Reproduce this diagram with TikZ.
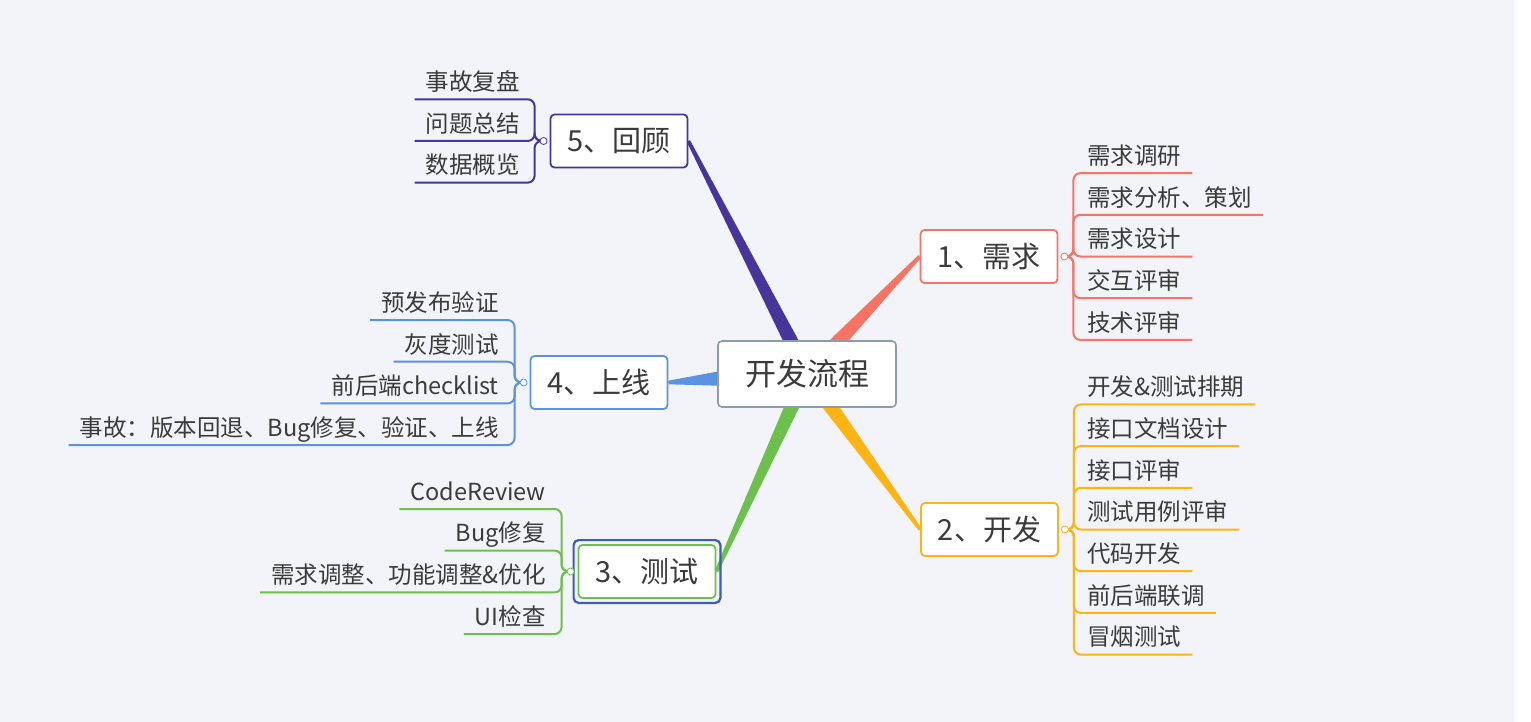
\documentclass[tikz,border=0pt]{standalone}
\usepackage{fontspec}
\setmainfont{Noto Sans CJK SC}
\usetikzlibrary{calc,positioning}
\definecolor{paper}{HTML}{F3F4F9}
\definecolor{ink}{HTML}{3B3B3B}
\definecolor{rootgray}{HTML}{8E9AAF}
\definecolor{coral}{HTML}{F87363}
\definecolor{amber}{HTML}{FFB414}
\definecolor{leaf}{HTML}{6CC04C}
\definecolor{sky}{HTML}{5A93DE}
\definecolor{plum}{HTML}{47359A}
\definecolor{pick}{HTML}{3C5CB6}
\pgfdeclarelayer{paperlayer}\pgfdeclarelayer{stemlayer}
\pgfsetlayers{paperlayer,stemlayer,main}
% tapered line from the root K to a topic anchor
\newcommand\mainline[2]{%
  \path let \p1=($(#2)-(K)$),\n1={mod(atan2(\y1,\x1)+360,360)} in (K.\n1) coordinate (b);
  \fill[#1] ($(K)!7pt!90:(#2)$) -- ($(b)!7pt!90:(#2)$) -- ($(#2)!1.8pt!-90:(b)$)
    -- ($(#2)!1.8pt!90:(b)$) -- ($(b)!7pt!-90:(#2)$) -- ($(K)!7pt!-90:(#2)$) -- cycle;}

\begin{document}
\begin{tikzpicture}[x=1pt,y=-1pt,
  root/.style={draw=rootgray,line width=1.6pt,fill=white,rounded corners=4pt,minimum width=178pt,minimum height=66pt,text=ink,font=\fontsize{31pt}{36pt}\selectfont},
  topic/.style={draw=#1,line width=1.8pt,fill=white,rounded corners=4pt,minimum width=137pt,minimum height=53pt,text=ink,font=\fontsize{29pt}{34pt}\selectfont},
  item/.style={inner xsep=11pt,inner ysep=5.5pt,text height=19pt,text depth=3pt,text=ink,font=\fontsize{23.5pt}{28pt}\selectfont},
  knob/.style={circle,draw=#1,fill=white,line width=.8pt,inner sep=0pt,minimum size=7pt},
  twig/.style={draw=#1,line width=2pt,rounded corners=7pt}]
\useasboundingbox (0,0) rectangle (1531,722);
\begin{pgfonlayer}{paperlayer}
\fill[paper] (0,0) rectangle (1517,722);
\shade[left color=paper,right color=white] (1512,0) rectangle (1519,722);
\fill[white] (1519,0) rectangle (1531,722);
\end{pgfonlayer}

\node[root] (K) at (807,374) {开发流程};
\node[topic=coral] (T1) at (989,256.5) {1、需求};
\node[topic=amber] (T2) at (989.5,529.5) {2、开发};
\node[topic=leaf] (T3) at (647,571.5) {3、测试};
\node[topic=sky] (T4) at (599,382.5) {4、上线};
\node[topic=plum] (T5) at (619,141) {5、回顾};
\draw[pick,line width=2.2pt,rounded corners=5pt] ([shift={(-4pt,4pt)}]T3.north west) rectangle ([shift={(4pt,-4pt)}]T3.south east);

\begin{pgfonlayer}{stemlayer}
\mainline{plum}{T5.east}
\mainline{coral}{T1.west}
\mainline{sky}{T4.east}
\mainline{leaf}{T3.east}
\mainline{amber}{T2.west}
\end{pgfonlayer}

% 1 需求
\coordinate (c1) at ([xshift=6pt]T1.east);
\coordinate (s1) at ([xshift=15pt]T1.east);
\foreach \y/\t [count=\i] in {173.1/需求调研,214.8/需求分析、策划,256.5/需求设计,298.2/交互评审,339.9/技术评审}{
  \node[item,anchor=south west] (i1\i) at (1076,\y) {\t};
  \draw[twig=coral] (c1) -| (s1 |- i1\i.south) -- (i1\i.south east);
}
\node[knob=coral] (k1) at (c1) {};

% 2 开发
\coordinate (c2) at ([xshift=6pt]T2.east);
\coordinate (s2) at ([xshift=15pt]T2.east);
\foreach \y/\t [count=\i] in {404.4/开发\&测试排期,446.1/接口文档设计,487.8/接口评审,529.5/测试用例评审,571.2/代码开发,612.9/前后端联调,654.6/冒烟测试}{
  \node[item,anchor=south west] (i2\i) at (1076,\y) {\t};
  \draw[twig=amber] (c2) -| (s2 |- i2\i.south) -- (i2\i.south east);
}
\node[knob=amber] (k2) at (c2) {};

% 3 测试
\coordinate (c3) at ([xshift=-7pt]T3.west);
\coordinate (s3) at ([xshift=-16pt]T3.west);
\foreach \y/\t [count=\i] in {509/CodeReview,550.6/Bug修复,592.4/需求调整、功能调整\&优化,634/UI检查}{
  \node[item,anchor=south east] (i3\i) at (557,\y) {\t};
  \draw[twig=leaf] (c3) -| (s3 |- i3\i.south) -- (i3\i.south west);
}
\node[knob=leaf] (k3) at (c3) {};

% 4 上线
\coordinate (c4) at ([xshift=-6pt]T4.west);
\coordinate (s4) at ([xshift=-15pt]T4.west);
\foreach \y/\t [count=\i] in {320/预发布验证,361.7/灰度测试,403.4/前后端checklist,445/事故：版本回退、Bug修复、验证、上线}{
  \node[item,anchor=south east] (i4\i) at (510,\y) {\t};
  \draw[twig=sky] (c4) -| (s4 |- i4\i.south) -- (i4\i.south west);
}
\node[knob=sky] (k4) at (c4) {};

% 5 回顾
\coordinate (c5) at ([xshift=-6pt]T5.west);
\coordinate (s5) at ([xshift=-15pt]T5.west);
\foreach \y/\t [count=\i] in {99.3/事故复盘,141/问题总结,182.7/数据概览}{
  \node[item,anchor=south east] (i5\i) at (531,\y) {\t};
  \draw[twig=plum] (c5) -| (s5 |- i5\i.south) -- (i5\i.south west);
}
\node[knob=plum] (k5) at (c5) {};
\end{tikzpicture}
\end{document}
